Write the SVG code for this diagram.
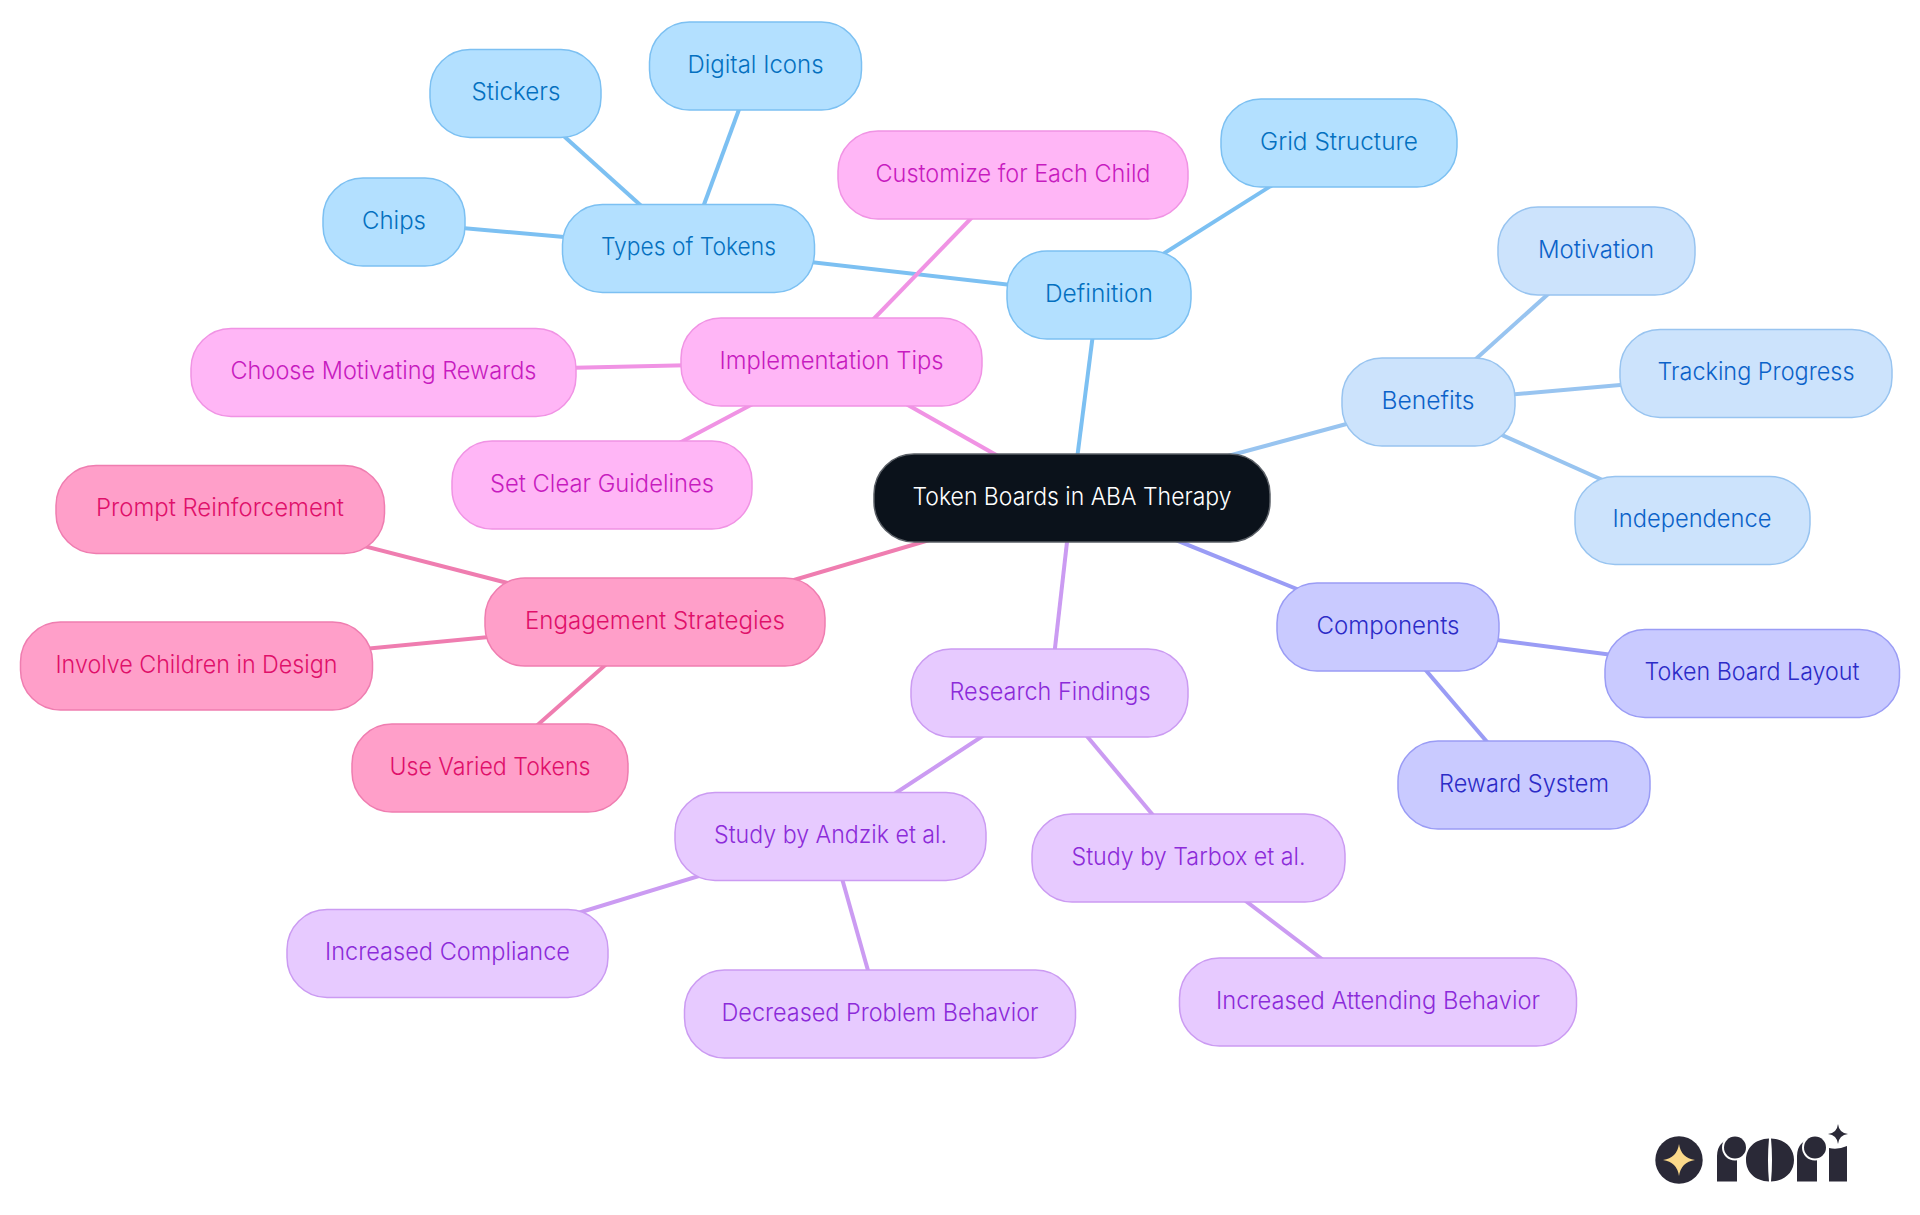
<svg xmlns="http://www.w3.org/2000/svg" width="1920" height="1215" viewBox="0 0 1920 1215">
<style>
text{font-family:"Inter","Noto Sans","Liberation Sans",sans-serif;font-size:24px;font-weight:350;text-anchor:middle;dominant-baseline:central}
.n rect{stroke-width:1.5}
.c line{stroke-width:4;fill:none}
.root rect{fill:#0b121b;stroke:#5a5f66}.root text{fill:#fff}
.a rect{fill:#b3e0ff;stroke:#7cc0f2}.a text{fill:#0470c0}
.b rect{fill:#cce3fc;stroke:#98c4f0}.b text{fill:#0b62c9}
.d rect{fill:#c9caff;stroke:#9a9cf5}.d text{fill:#2c2bc7}
.e rect{fill:#e7caff;stroke:#cb9bf2}.e text{fill:#8c2bd9}
.f rect{fill:#ff9fc9;stroke:#ef7db0}.f text{fill:#e0106a}
.g rect{fill:#ffb6f6;stroke:#f093e4}.g text{fill:#c71bbf}
.la{stroke:#7cc0f2}.lb{stroke:#98c4f0}.ld{stroke:#9a9cf5}.le{stroke:#cb9bf2}.lf{stroke:#ef7db0}.lg{stroke:#f093e4}
.logo{fill:#2a2937}
.gap{fill:#fff}
</style>
<g id="connectors" class="c">
<line class="la" x1="1072" y1="498" x2="1098" y2="295"/>
<line class="la" x1="1098" y1="295" x2="1339" y2="143"/>
<line class="la" x1="1098" y1="295" x2="688" y2="248"/>
<line class="la" x1="688" y1="248" x2="394" y2="222"/>
<line class="la" x1="688" y1="248" x2="516" y2="93"/>
<line class="la" x1="688" y1="248" x2="755" y2="66"/>
<line class="lb" x1="1072" y1="498" x2="1428" y2="402"/>
<line class="lb" x1="1428" y1="402" x2="1596" y2="251"/>
<line class="lb" x1="1428" y1="402" x2="1756" y2="373"/>
<line class="lb" x1="1428" y1="402" x2="1692" y2="520"/>
<line class="ld" x1="1072" y1="498" x2="1388" y2="626"/>
<line class="ld" x1="1388" y1="626" x2="1752" y2="673"/>
<line class="ld" x1="1388" y1="626" x2="1523" y2="784"/>
<line class="le" x1="1072" y1="498" x2="1050" y2="692"/>
<line class="le" x1="1050" y1="692" x2="830" y2="836"/>
<line class="le" x1="1050" y1="692" x2="1188" y2="857"/>
<line class="le" x1="830" y1="836" x2="447" y2="953"/>
<line class="le" x1="830" y1="836" x2="880" y2="1013"/>
<line class="le" x1="1188" y1="857" x2="1377" y2="1001"/>
<line class="lf" x1="1072" y1="498" x2="655" y2="621"/>
<line class="lf" x1="655" y1="621" x2="220" y2="509"/>
<line class="lf" x1="655" y1="621" x2="196" y2="665"/>
<line class="lf" x1="655" y1="621" x2="490" y2="767"/>
<line class="lg" x1="1072" y1="498" x2="832" y2="362"/>
<line class="lg" x1="832" y1="362" x2="1013" y2="175"/>
<line class="lg" x1="832" y1="362" x2="384" y2="372"/>
<line class="lg" x1="832" y1="362" x2="602" y2="484"/>
</g>
<g id="root" class="n root"><rect x="874" y="454" width="396" height="88" rx="40"/><text x="1072" y="496" textLength="319" lengthAdjust="spacingAndGlyphs">Token Boards in ABA Therapy</text></g>
<g id="definition" class="n a"><rect x="1007" y="251" width="184" height="88" rx="40"/><text x="1099" y="293" textLength="108" lengthAdjust="spacingAndGlyphs">Definition</text></g>
<g id="grid-structure" class="n a"><rect x="1221" y="99" width="236" height="88" rx="40"/><text x="1339" y="141" textLength="158" lengthAdjust="spacingAndGlyphs">Grid Structure</text></g>
<g id="types-of-tokens" class="n a"><rect x="562.5" y="204.5" width="252" height="88" rx="40"/><text x="688.5" y="246.5" textLength="175" lengthAdjust="spacingAndGlyphs">Types of Tokens</text></g>
<g id="chips" class="n a"><rect x="323" y="178" width="142" height="88" rx="40"/><text x="394" y="220" textLength="64" lengthAdjust="spacingAndGlyphs">Chips</text></g>
<g id="stickers" class="n a"><rect x="430" y="49.5" width="171" height="88" rx="40"/><text x="516" y="91.5" textLength="89" lengthAdjust="spacingAndGlyphs">Stickers</text></g>
<g id="digital-icons" class="n a"><rect x="649.5" y="22" width="212" height="88" rx="40"/><text x="755.5" y="64" textLength="136" lengthAdjust="spacingAndGlyphs">Digital Icons</text></g>
<g id="benefits" class="n b"><rect x="1342" y="358" width="173" height="88" rx="40"/><text x="1428" y="400" textLength="93" lengthAdjust="spacingAndGlyphs">Benefits</text></g>
<g id="motivation" class="n b"><rect x="1498" y="207" width="197" height="88" rx="40"/><text x="1596" y="249" textLength="116" lengthAdjust="spacingAndGlyphs">Motivation</text></g>
<g id="tracking-progress" class="n b"><rect x="1620" y="329.5" width="272" height="88" rx="40"/><text x="1756" y="371.5" textLength="197" lengthAdjust="spacingAndGlyphs">Tracking Progress</text></g>
<g id="independence" class="n b"><rect x="1575" y="476.5" width="235" height="88" rx="40"/><text x="1692" y="518.5" textLength="159" lengthAdjust="spacingAndGlyphs">Independence</text></g>
<g id="components" class="n d"><rect x="1277" y="583" width="222" height="88" rx="40"/><text x="1388" y="625" textLength="143" lengthAdjust="spacingAndGlyphs">Components</text></g>
<g id="token-board-layout" class="n d"><rect x="1605" y="629.5" width="294.5" height="88" rx="40"/><text x="1752" y="671.5" textLength="215" lengthAdjust="spacingAndGlyphs">Token Board Layout</text></g>
<g id="reward-system" class="n d"><rect x="1398" y="741" width="252" height="88" rx="40"/><text x="1524" y="783" textLength="170" lengthAdjust="spacingAndGlyphs">Reward System</text></g>
<g id="research-findings" class="n e"><rect x="911" y="649" width="277" height="88" rx="40"/><text x="1050" y="691" textLength="201" lengthAdjust="spacingAndGlyphs">Research Findings</text></g>
<g id="study-andzik" class="n e"><rect x="675" y="792.5" width="311" height="88" rx="40"/><text x="830.5" y="834.5" textLength="233" lengthAdjust="spacingAndGlyphs">Study by Andzik et al.</text></g>
<g id="study-tarbox" class="n e"><rect x="1032" y="814" width="313" height="88" rx="40"/><text x="1188.5" y="856" textLength="234" lengthAdjust="spacingAndGlyphs">Study by Tarbox et al.</text></g>
<g id="increased-compliance" class="n e"><rect x="287" y="909.5" width="321" height="88" rx="40"/><text x="447.5" y="951.5" textLength="245" lengthAdjust="spacingAndGlyphs">Increased Compliance</text></g>
<g id="decreased-problem" class="n e"><rect x="684.5" y="970" width="391" height="88" rx="40"/><text x="880" y="1012" textLength="317" lengthAdjust="spacingAndGlyphs">Decreased Problem Behavior</text></g>
<g id="increased-attending" class="n e"><rect x="1179.5" y="958" width="397" height="88" rx="40"/><text x="1378" y="1000" textLength="324" lengthAdjust="spacingAndGlyphs">Increased Attending Behavior</text></g>
<g id="engagement" class="n f"><rect x="485" y="578" width="340" height="88" rx="40"/><text x="655" y="620" textLength="260" lengthAdjust="spacingAndGlyphs">Engagement Strategies</text></g>
<g id="prompt" class="n f"><rect x="56" y="465.5" width="328.5" height="88" rx="40"/><text x="220" y="507.5" textLength="248" lengthAdjust="spacingAndGlyphs">Prompt Reinforcement</text></g>
<g id="involve" class="n f"><rect x="20.5" y="622" width="352" height="88" rx="40"/><text x="196.5" y="664" textLength="282" lengthAdjust="spacingAndGlyphs">Involve Children in Design</text></g>
<g id="varied" class="n f"><rect x="352" y="724" width="276" height="88" rx="40"/><text x="490" y="766" textLength="201" lengthAdjust="spacingAndGlyphs">Use Varied Tokens</text></g>
<g id="implementation" class="n g"><rect x="681" y="318" width="301" height="88" rx="40"/><text x="831.5" y="360" textLength="224" lengthAdjust="spacingAndGlyphs">Implementation Tips</text></g>
<g id="customize" class="n g"><rect x="838" y="131" width="350" height="88" rx="40"/><text x="1013" y="173" textLength="275" lengthAdjust="spacingAndGlyphs">Customize for Each Child</text></g>
<g id="choose" class="n g"><rect x="191" y="328.5" width="385" height="88" rx="40"/><text x="383.5" y="370.5" textLength="306" lengthAdjust="spacingAndGlyphs">Choose Motivating Rewards</text></g>
<g id="guidelines" class="n g"><rect x="452" y="441" width="300" height="88" rx="40"/><text x="602" y="483" textLength="224" lengthAdjust="spacingAndGlyphs">Set Clear Guidelines</text></g>
<g id="logo">
<circle class="logo" cx="1679" cy="1160" r="23.7"/>
<path fill="#fbd98a" d="M1679 1144Q1681 1158 1695 1160Q1681 1162 1679 1176Q1677 1162 1663 1160Q1677 1158 1679 1144Z"/>
<path class="logo" d="M1717 1181.5V1156Q1717 1141 1733 1138L1737 1160V1181.5Z"/>
<circle class="gap" cx="1735" cy="1147.5" r="13"/>
<circle class="logo" cx="1735" cy="1147.5" r="11"/>
<path class="logo" d="M1769 1138.5C1755 1139 1746 1148 1746 1160C1746 1172 1755 1181 1769 1181.5Q1767 1160 1769 1138.5Z"/>
<path class="logo" d="M1771 1138.5C1785 1139 1794 1148 1794 1160C1794 1172 1785 1181 1771 1181.5Q1773 1160 1771 1138.5Z"/>
<path class="logo" d="M1797 1181.5V1156Q1797 1141 1813 1138L1817 1160V1181.5Z"/>
<circle class="gap" cx="1815" cy="1147.5" r="13"/>
<circle class="logo" cx="1815" cy="1147.5" r="11"/>
<path class="logo" d="M1829 1181.5V1148Q1838 1150 1847 1146V1181.5Z"/>
<path class="logo" d="M1838 1124Q1839 1133 1848 1134Q1839 1135 1838 1144Q1837 1135 1828 1134Q1837 1133 1838 1124Z"/>
</g>
</svg>
